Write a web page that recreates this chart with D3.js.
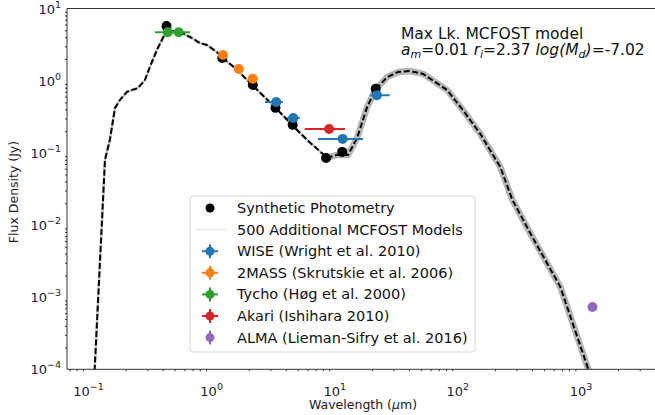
<!DOCTYPE html>
<html>
<head>
<meta charset="utf-8">
<script src="https://cdn.jsdelivr.net/npm/d3@7"></script>
<style>
  body { margin: 0; background: white; }
  svg { font-family: "DejaVu Sans", sans-serif; }
</style>
</head>
<body>
<div id="container"></div>
<script>
// best model SED (wavelength in um, flux in Jy)
const modelLam = [0.112, 0.136, 0.149, 0.164, 0.180, 0.205, 0.252, 0.287, 0.315, 0.359, 0.394, 0.433, 0.475, 0.552, 0.667, 0.80, 0.916, 1.10, 1.21, 1.61, 2.13, 3.27, 4.50, 5.96, 8.67, 10.4, 12.8, 15.2, 18.3, 21.3, 26.6, 32.7, 40.9, 52.2, 81.9, 110, 152, 221, 277, 402, 679, 1125, 1190]
const modelFlux = [9.5e-5, 0.080, 0.151, 0.419, 0.54, 0.70, 0.79, 1.02, 1.55, 2.66, 3.66, 5.04, 4.88, 4.73, 4.03, 3.33, 3.12, 2.50, 2.13, 1.41, 0.87, 0.43, 0.243, 0.151, 0.085, 0.0935, 0.0935, 0.161, 0.43, 0.74, 1.12, 1.32, 1.36, 1.24, 0.74, 0.39, 0.183, 0.0638, 0.0223, 6.84e-3, 1.39e-3, 1.1e-4, 8.5e-5]

// synthetic photometry
const synthLam = [0.43, 1.22, 2.16, 3.3, 4.55, 8.5, 11.5, 21.5]
const synthFlux = [5.7, 2.06, 0.87, 0.42, 0.244, 0.085, 0.103, 0.77]

// observations
const wise = { name: "WISE (Wright et al. 2010)", color: "#1f77b4",
  lam: [3.35, 4.6, 11.6, 22], flux: [0.507, 0.304, 0.156, 0.63],
  lo: [2.71, 4.1, 7.3, 19.4], hi: [3.79, 5.2, 17.0, 28.0] }
const twomass = { name: "2MASS (Skrutskie et al. 2006)", color: "#ff7f0e",
  lam: [1.235, 1.662, 2.159], flux: [2.27, 1.45, 1.06],
  lo: [1.16, 1.58, 2.05], hi: [1.31, 1.75, 2.27] }
const tycho = { name: "Tycho (Høg et al. 2000)", color: "#2ca02c",
  lam: [0.44, 0.54], flux: [4.7, 4.7],
  lo: [0.346, 0.413], hi: [0.534, 0.667] }
const akari = { name: "Akari (Ishihara 2010)", color: "#d62728",
  lam: [9.0], flux: [0.214], lo: [5.7], hi: [12.1] }
const alma = { name: "ALMA (Lieman-Sifry et al. 2016)", color: "#9467bd",
  lam: [1240], flux: [7.3e-4], lo: [1240], hi: [1240] }
const obs = [wise, twomass, tycho, akari, alma]

const xMajors = [0.1, 1, 10, 100, 1000]
const yMajors = [1e-4, 1e-3, 1e-2, 1e-1, 1, 10]

const W = 655, H = 415
const pLeft = 67, pTop = 8.5, pBottom = 369.3, pRight = 661

const svg = d3.select("#container").append("svg").attr("width", W).attr("height", H)

const x = d3.scaleLog().domain([Math.pow(10, -1.175), Math.pow(10, 3.65)]).range([pLeft, pRight])
const y = d3.scaleLog().domain([1e-4, 10]).range([pBottom, pTop])

svg.append("clipPath").attr("id", "plot").append("rect")
  .attr("x", pLeft).attr("y", pTop).attr("width", pRight - pLeft).attr("height", pBottom - pTop)

const g = svg.append("g").attr("clip-path", "url(#plot)")
const line = d3.line().x(d => x(d[0])).y(d => y(d[1]))
const model = modelLam.map((l, i) => [l, modelFlux[i]])

// spread of the 500 extra models
g.append("path").datum(model.filter(d => d[0] >= 8))
  .attr("d", line).attr("fill", "none").attr("stroke", "#999").attr("stroke-opacity", 0.75)
  .attr("stroke-width", 6.5).attr("stroke-linejoin", "round")
g.append("path").datum(model)
  .attr("d", line).attr("fill", "none").attr("stroke", "#c8c8c8").attr("stroke-width", 2.6)
g.append("path").datum(model)
  .attr("d", line).attr("fill", "none").attr("stroke", "black").attr("stroke-width", 2)
  .attr("stroke-dasharray", "6,2.5")

g.selectAll(".synth").data(synthLam).enter().append("circle")
  .attr("cx", d => x(d)).attr("cy", (d, i) => y(synthFlux[i])).attr("r", 5).attr("fill", "black")

obs.forEach(s => {
  s.lam.forEach((l, i) => {
    g.append("line").attr("x1", x(s.lo[i])).attr("x2", x(s.hi[i]))
      .attr("y1", y(s.flux[i])).attr("y2", y(s.flux[i]))
      .attr("stroke", s.color).attr("stroke-width", 2)
    g.append("circle").attr("cx", x(l)).attr("cy", y(s.flux[i])).attr("r", 5).attr("fill", s.color)
  })
})

// axes
const axisColor = "#333"
function minors(lo, hi) {
  const out = []
  for (let e = lo; e <= hi; e++) for (let m = 2; m <= 9; m++) out.push(m * Math.pow(10, e))
  return out
}
const xAxis = svg.append("g").attr("transform", `translate(0,${pBottom})`)
xAxis.call(d3.axisBottom(x).tickValues(xMajors).tickSize(3.5).tickFormat(""))
xAxis.call(d3.axisBottom(x).tickValues(minors(-2, 3).filter(v => v > x.domain()[0] && v < x.domain()[1])).tickSize(2).tickFormat(""))
const yAxis = svg.append("g").attr("transform", `translate(${pLeft},0)`)
yAxis.call(d3.axisLeft(y).tickValues(yMajors).tickSize(3.5).tickFormat(""))
yAxis.call(d3.axisLeft(y).tickValues(minors(-4, 0)).tickSize(2).tickFormat(""))
svg.selectAll(".domain").remove()
svg.selectAll(".tick line").attr("stroke", axisColor)

svg.append("line").attr("x1", pLeft).attr("x2", pRight).attr("y1", pTop).attr("y2", pTop).attr("stroke", axisColor)
svg.append("line").attr("x1", pLeft).attr("x2", pRight).attr("y1", pBottom).attr("y2", pBottom).attr("stroke", axisColor)
svg.append("line").attr("x1", pLeft).attr("x2", pLeft).attr("y1", pTop).attr("y2", pBottom).attr("stroke", axisColor)

function powLabel(sel, v) {
  const e = Math.round(Math.log10(v))
  sel.append("tspan").text("10")
  sel.append("tspan").attr("font-size", "9.5px").attr("dy", -6).text(e < 0 ? "\u2212" + (-e) : e)
}
xMajors.forEach(v => {
  const t = svg.append("text").attr("x", x(v)).attr("y", 396).attr("text-anchor", "middle")
    .attr("font-size", "13px").attr("fill", "#222")
  powLabel(t, v)
})
yMajors.forEach(v => {
  const t = svg.append("text").attr("x", 61).attr("y", y(v) + 5).attr("text-anchor", "end")
    .attr("font-size", "13px").attr("fill", "#222")
  powLabel(t, v)
})

svg.append("text").attr("x", 363).attr("y", 409).attr("text-anchor", "middle")
  .attr("font-size", "12.5px").attr("fill", "#222")
  .html('Wavelength (<tspan font-style="italic">μ</tspan>m)')
svg.append("text").attr("transform", "translate(18,192) rotate(-90)").attr("text-anchor", "middle")
  .attr("font-size", "12.5px").attr("fill", "#222").text("Flux Density (Jy)")

// annotation
svg.append("text").attr("x", 401).attr("y", 39).attr("font-size", "15.5px").attr("fill", "#111")
  .text("Max Lk. MCFOST model")
svg.append("text").attr("x", 401).attr("y", 54.5).attr("font-size", "15.5px").attr("fill", "#111")
  .html('<tspan font-style="italic">a</tspan><tspan font-style="italic" font-size="11px" dy="3">m</tspan>' +
    '<tspan dy="-3">=0.01 </tspan><tspan font-style="italic">r</tspan><tspan font-style="italic" font-size="11px" dy="3">i</tspan>' +
    '<tspan dy="-3">=2.37 </tspan><tspan font-style="italic">log(M</tspan><tspan font-style="italic" font-size="11px" dy="3">d</tspan>' +
    '<tspan font-style="italic" dy="-3">)</tspan><tspan>=-7.02</tspan>')

// legend
const leg = svg.append("g")
leg.append("rect").attr("x", 190).attr("y", 196).attr("width", 285).attr("height", 156).attr("rx", 3)
  .attr("fill", "white").attr("fill-opacity", 0.85).attr("stroke", "#d5d5d5")
const rows = ["Synthetic Photometry", "500 Additional MCFOST Models"].concat(obs.map(s => s.name))
rows.forEach((r, i) => {
  const cy = 208 + i * 21.6
  leg.append("text").attr("x", 237).attr("y", cy + 5).attr("font-size", "14.5px").attr("fill", "#111").text(r)
  if (i === 0) leg.append("circle").attr("cx", 210).attr("cy", cy).attr("r", 4.5).attr("fill", "black")
  else if (i === 1) leg.append("line").attr("x1", 195).attr("x2", 226).attr("y1", cy).attr("y2", cy)
    .attr("stroke", "#e8e8e8").attr("stroke-width", 1.5)
  else {
    const c = obs[i - 2].color
    if (i < 6) leg.append("line").attr("x1", 202).attr("x2", 218).attr("y1", cy).attr("y2", cy).attr("stroke", c).attr("stroke-width", 2)
    leg.append("line").attr("x1", 210).attr("x2", 210).attr("y1", cy - 7).attr("y2", cy + 7).attr("stroke", c).attr("stroke-width", 2)
    leg.append("circle").attr("cx", 210).attr("cy", cy).attr("r", 4.5).attr("fill", c)
  }
})
</script>
</body>
</html>
